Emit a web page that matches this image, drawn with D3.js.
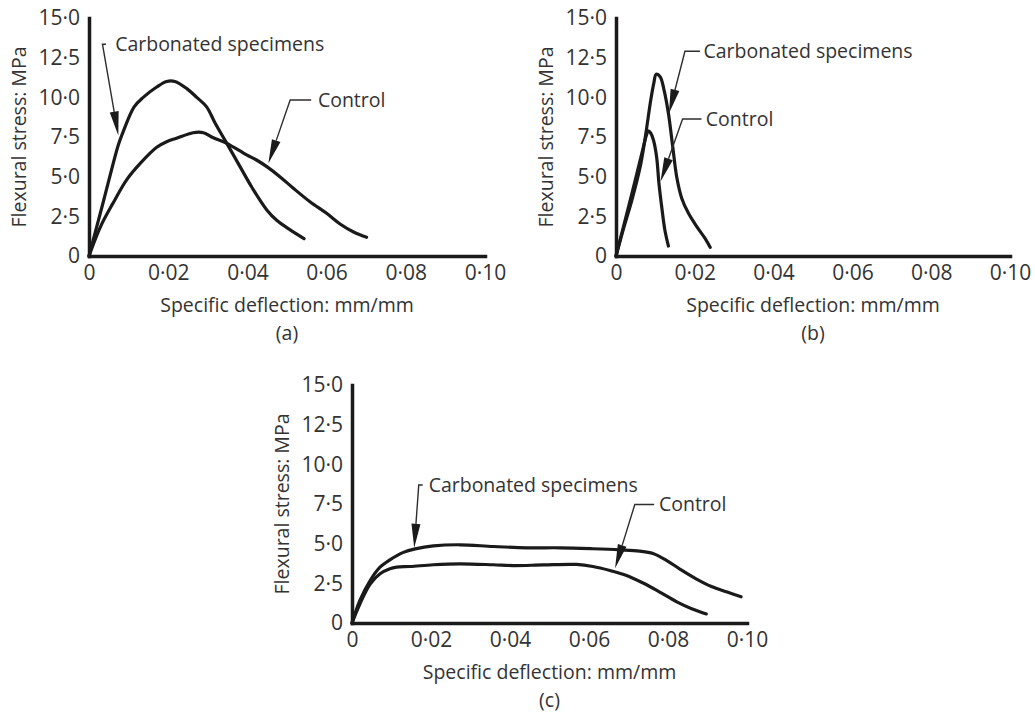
<!DOCTYPE html>
<html>
<head>
<meta charset="utf-8">
<title>Flexural stress vs specific deflection</title>
<script src="https://cdn.jsdelivr.net/npm/d3@7"></script>
<style>
  body { margin: 0; background: #fff; }
  svg { display: block; font-family: "Open Sans", "Noto Sans", sans-serif; }
  .axis .domain { stroke: #1a1a1a; stroke-width: 3.5; stroke-linecap: square; }
  .axis text { fill: #333; font-size: 21px; font-family: "Open Sans", sans-serif; }
  .curve { fill: none; stroke: #1a1a1a; stroke-width: 3.2; stroke-linejoin: round; stroke-linecap: round; }
  .leader { fill: none; stroke: #2e2e2e; stroke-width: 1.4; }
  .arrowhead { fill: #1a1a1a; }
  .label { fill: #333; font-size: 19.5px; }
</style>
</head>
<body>
<svg id="chart" width="1035" height="714"></svg>
<script>
// ticks and titles
const xTicks = [0, 0.02, 0.04, 0.06, 0.08, 0.10];
const yTicks = [0, 2.5, 5, 7.5, 10, 12.5, 15];
const xTitle = 'Specific deflection: mm/mm';
const yTitle = 'Flexural stress: MPa';
const panelNames = ['(a)', '(b)', '(c)'];
const seriesNames = ['Carbonated specimens', 'Control'];

// (a) values: [deflection, stress]
const carbonatedA = [[0, 0], [0.0037, 3.5], [0.0074, 7.0], [0.0085, 7.75], [0.0114, 9.4], [0.0137, 10.0],
  [0.0171, 10.65], [0.0196, 11.0], [0.0217, 11.0], [0.0247, 10.55], [0.0272, 10.0], [0.0297, 9.4],
  [0.0318, 8.4], [0.0348, 7.1], [0.0381, 5.65], [0.0412, 4.3], [0.0449, 2.9], [0.0474, 2.25],
  [0.0508, 1.65], [0.0543, 1.1]];
const controlA = [[0, 0], [0.003, 1.9], [0.006, 3.3], [0.0095, 4.8], [0.013, 5.85], [0.0171, 6.85],
  [0.0196, 7.2], [0.0221, 7.42], [0.0263, 7.77], [0.0289, 7.77], [0.0314, 7.45], [0.0348, 7.1],
  [0.0398, 6.37], [0.0423, 6.05], [0.0449, 5.63], [0.0482, 5.0], [0.0516, 4.27], [0.0558, 3.42],
  [0.06, 2.69], [0.0634, 2.02], [0.0667, 1.53], [0.0701, 1.18]];

// (b)
const carbonatedB = [[0, 0], [0.002, 1.8], [0.004, 3.5], [0.0062, 5.7], [0.0075, 7.6], [0.0088, 9.8],
  [0.0096, 10.9], [0.0102, 11.45], [0.0112, 11.3], [0.0122, 10.46], [0.0133, 8.99], [0.0144, 6.89],
  [0.0154, 5.0], [0.0167, 3.63], [0.0184, 2.69], [0.0205, 1.85], [0.0226, 1.11], [0.0239, 0.55]];
const controlB = [[0, 0], [0.002, 1.95], [0.004, 3.9], [0.0065, 6.4], [0.0077, 7.6], [0.0082, 7.88],
  [0.0088, 7.75], [0.0095, 7.31], [0.0103, 6.26], [0.0109, 4.58], [0.0116, 3.1], [0.0124, 1.64],
  [0.0133, 0.63]];

// (c)
const carbonatedC = [[0, 0], [0.002, 1.43], [0.0046, 2.68], [0.0071, 3.52], [0.0096, 3.98], [0.013, 4.45],
  [0.016, 4.67], [0.0206, 4.86], [0.0273, 4.93], [0.0358, 4.82], [0.0442, 4.74], [0.0526, 4.74],
  [0.061, 4.68], [0.0678, 4.61], [0.0728, 4.53], [0.0762, 4.38], [0.0796, 3.95], [0.083, 3.4],
  [0.087, 2.8], [0.091, 2.3], [0.095, 1.95], [0.0985, 1.65]];
const controlC = [[0, 0], [0.002, 1.2], [0.0046, 2.45], [0.0071, 3.1], [0.0096, 3.42], [0.0113, 3.52],
  [0.0147, 3.56], [0.0206, 3.67], [0.0273, 3.73], [0.0358, 3.67], [0.0408, 3.62], [0.0484, 3.66],
  [0.0568, 3.69], [0.061, 3.56], [0.0653, 3.31], [0.0695, 3.0], [0.0737, 2.52], [0.0779, 1.95],
  [0.0821, 1.35], [0.086, 0.9], [0.0897, 0.57]];

// callouts in data units: label anchor, elbow of the leader, arrow tip
const calloutsA = [
  { x: 0.0066, y: 13.35, elbowX: 0.0034, stubX: 0.0043, tipX: 0.0074, tipY: 7.6 },
  { x: 0.0578, y: 9.83, elbowX: 0.0508, stubX: 0.0561, tipX: 0.0453, tipY: 5.84 }
];
const calloutsB = [
  { x: 0.0222, y: 12.9, elbowX: 0.0175, stubX: 0.0213, tipX: 0.01345, tipY: 9.0 },
  { x: 0.0228, y: 8.63, elbowX: 0.0169, stubX: 0.0217, tipX: 0.0113, tipY: 4.7 }
];
const calloutsC = [
  { x: 0.0194, y: 8.7, elbowX: 0.0169, stubX: 0.0179, tipX: 0.01575, tipY: 4.74 },
  { x: 0.0777, y: 7.47, elbowX: 0.0716, stubX: 0.0765, tipX: 0.0666, tipY: 3.45 }
];

const svg = d3.select('#chart');
svg.append('rect').attr('width', 1035).attr('height', 714).attr('fill', '#fff');

const panels = [
  { x0: 89, x1: 485, y0: 256, y1: 18, series: [carbonatedA, controlA], callouts: calloutsA },
  { x0: 616, x1: 1010, y0: 256, y1: 18, series: [carbonatedB, controlB], callouts: calloutsB },
  { x0: 352, x1: 747, y0: 623, y1: 385, series: [carbonatedC, controlC], callouts: calloutsC }
];

const fmt = (d, digits) => (d === 0 ? '0' : d.toFixed(digits).replace('.', '\u00b7'));

panels.forEach((p, i) => {
  const x = d3.scaleLinear().domain([0, 0.10]).range([p.x0, p.x1]);
  const y = d3.scaleLinear().domain([0, 15]).range([p.y0, p.y1]);
  const g = svg.append('g');

  g.append('g')
    .attr('class', 'axis')
    .attr('transform', `translate(0,${p.y0})`)
    .call(d3.axisBottom(x).tickValues(xTicks).tickSize(0).tickPadding(9).tickFormat(d => fmt(d, 2)))
    .call(a => a.attr('font-size', null).attr('font-family', null));

  g.append('g')
    .attr('class', 'axis')
    .attr('transform', `translate(${p.x0},0)`)
    .call(d3.axisLeft(y).tickValues(yTicks).tickSize(0).tickPadding(9).tickFormat(d => fmt(d, 1)))
    .call(a => a.attr('font-size', null).attr('font-family', null));

  const line = d3.line()
    .x(d => x(d[0]))
    .y(d => y(d[1]))
    .curve(d3.curveCatmullRom.alpha(0.5));

  p.series.forEach(s => {
    g.append('path').attr('class', 'curve').attr('d', line(s));
  });

  // callouts
  p.callouts.forEach((c, k) => {
    const ey = y(c.y);
    const tip = [x(c.tipX), y(c.tipY)];
    const elbow = [x(c.elbowX), ey];
    const dx = tip[0] - elbow[0], dy = tip[1] - elbow[1];
    const len = Math.hypot(dx, dy);
    const ux = dx / len, uy = dy / len;
    const L = 24, w = 4.5;
    const bx = tip[0] - ux * L, by = tip[1] - uy * L;

    g.append('path')
      .attr('class', 'leader')
      .attr('d', d3.line()([[x(c.stubX), ey], elbow, [bx, by]]));
    g.append('path')
      .attr('class', 'arrowhead')
      .attr('d', d3.line()([tip, [bx - uy * w, by + ux * w], [bx + uy * w, by - ux * w]]) + 'Z');
    g.append('text')
      .attr('class', 'label')
      .attr('x', x(c.x))
      .attr('y', y(c.y))
      .attr('dy', '0.35em')
      .text(seriesNames[k]);
  });

  const cx = (p.x0 + p.x1) / 2;
  g.append('text').attr('class', 'label')
    .attr('x', cx).attr('y', p.y0 + 49).attr('dy', '0.35em')
    .attr('text-anchor', 'middle').text(xTitle);
  g.append('text').attr('class', 'label')
    .attr('x', cx).attr('y', p.y0 + 77).attr('dy', '0.35em')
    .attr('text-anchor', 'middle').text(panelNames[i]);
  g.append('text').attr('class', 'label')
    .attr('transform', `translate(${p.x0 - 70},${(p.y0 + p.y1) / 2}) rotate(-90)`)
    .attr('dy', '0.35em')
    .attr('text-anchor', 'middle').text(yTitle);
});
</script>
</body>
</html>
